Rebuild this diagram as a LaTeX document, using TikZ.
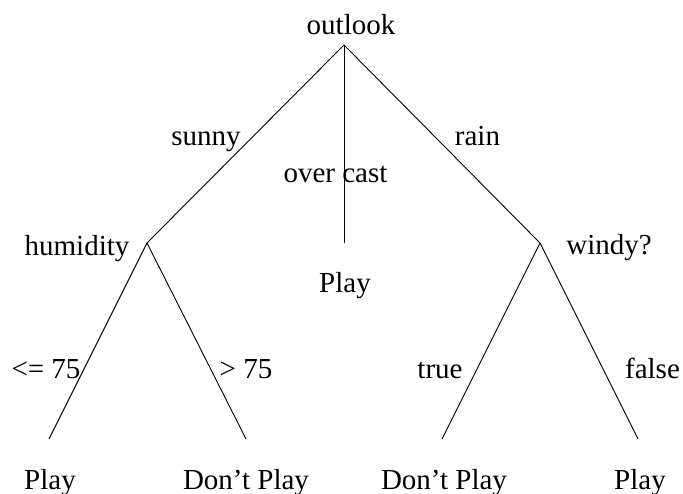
\documentclass[tikz,border=0pt]{standalone}
\usepackage{fontspec}
\setmainfont{Liberation Serif}
\usepackage{tikz}

\begin{document}
\begin{tikzpicture}[x=1pt, y=-1pt, line width=0.9pt,
	every node/.style={font=\fontsize{29}{33}\selectfont, inner sep=0pt, anchor=base}]
	\useasboundingbox (0,0) rectangle (683,494);
	% branch points
	\coordinate (root) at (344,45);
	\coordinate (hum) at (147,243);
	\coordinate (ovc) at (344,243);
	\coordinate (wind) at (540,243);
	\foreach \n/\x in {l1/49, l2/246, l3/442, l4/638}
		\coordinate (\n) at (\x,439);
	\foreach \a/\b in {root/hum, root/ovc, root/wind, hum/l1, hum/l2, wind/l3, wind/l4}
		\draw (\a) -- (\b);
	% tests
	\node (outlook) at (351,35) {outlook};
	\node (humidity) at (77,256) {humidity};
	\node (windy) at (609,255) {windy?};
	\node (play0) at (345,293) {Play};
	% branch labels
	\node (sunny) at (206,146) {sunny};
	\node (overcast) at (335.5,183) {over cast};
	\node (rain) at (477.5,146) {rain};
	\node (le75) at (46,378) {<= 75};
	\node (gt75) at (246,378) {> 75};
	\node (true) at (440,378) {true};
	\node (false) at (652.5,378) {false};
	% leaves
	\foreach \n/\x/\t in {p1/50/Play, p2/246/Don't Play, p3/444/Don't Play, p4/640/Play}
		\node (\n) at (\x,489) {\t};
\end{tikzpicture}
\end{document}
